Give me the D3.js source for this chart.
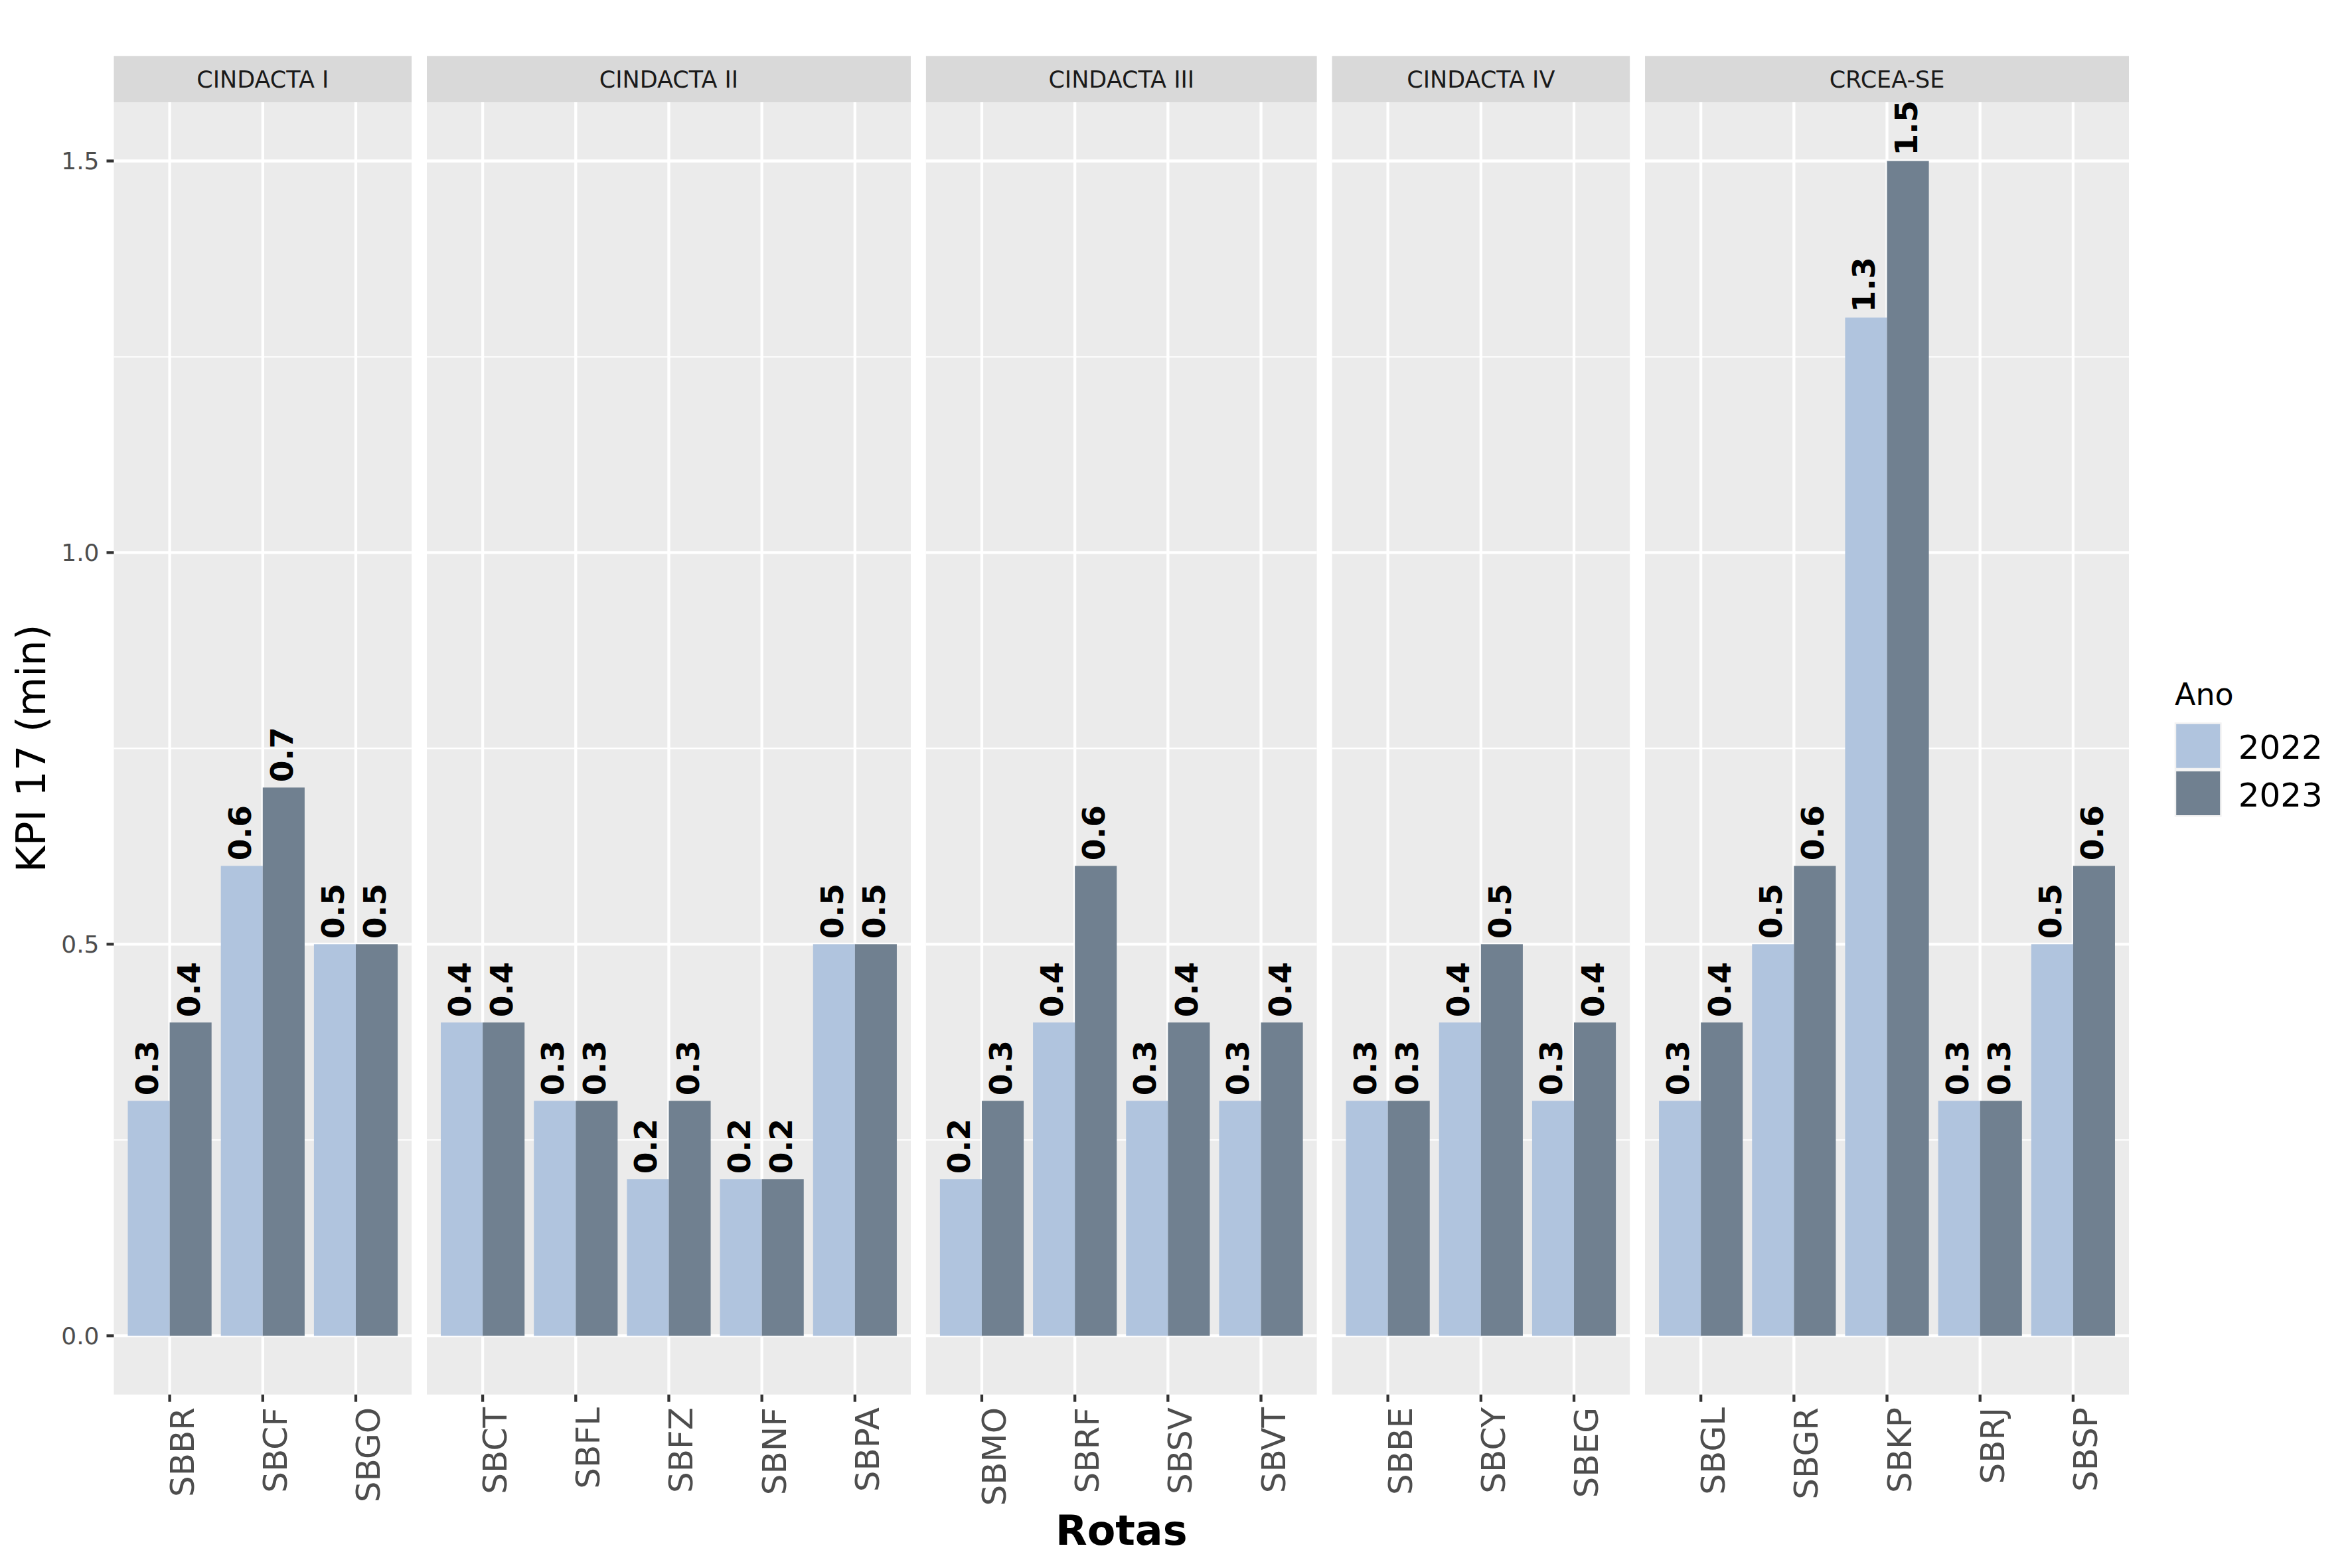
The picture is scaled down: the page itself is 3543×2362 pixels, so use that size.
<!DOCTYPE html>
<html><head><meta charset="utf-8">
<script src="https://cdn.jsdelivr.net/npm/d3@7"></script>
<style>body{margin:0;background:#fff}svg{display:block;font-family:"DejaVu Sans",sans-serif}</style>
</head><body>
<script>
const facetNames = ["CINDACTA I", "CINDACTA II", "CINDACTA III", "CINDACTA IV", "CRCEA-SE"];
const routes = ["SBBR","SBCF","SBGO","SBCT","SBFL","SBFZ","SBNF","SBPA","SBMO","SBRF","SBSV","SBVT","SBBE","SBCY","SBEG","SBGL","SBGR","SBKP","SBRJ","SBSP"];
const routeFacet = ["CINDACTA I","CINDACTA I","CINDACTA I","CINDACTA II","CINDACTA II","CINDACTA II","CINDACTA II","CINDACTA II","CINDACTA III","CINDACTA III","CINDACTA III","CINDACTA III","CINDACTA IV","CINDACTA IV","CINDACTA IV","CRCEA-SE","CRCEA-SE","CRCEA-SE","CRCEA-SE","CRCEA-SE"];
const values2022 = [0.3,0.6,0.5, 0.4,0.3,0.2,0.2,0.5, 0.2,0.4,0.3,0.3, 0.3,0.4,0.3, 0.3,0.5,1.3,0.3,0.5];
const values2023 = [0.4,0.7,0.5, 0.4,0.3,0.3,0.2,0.5, 0.3,0.6,0.4,0.4, 0.3,0.5,0.4, 0.4,0.6,1.5,0.3,0.6];
const years = ["2022","2023"];
const yearColors = ["#B0C4DE","#708090"];
const yTicks = [0, 0.5, 1.0, 1.5];
const yMinor = [0.25, 0.75, 1.25];
const xTitle = "Rotas", yTitle = "KPI 17 (min)", legendTitle = "Ano";

const W = 3543, H = 2362;
const plotL = 171.5, plotR = 3207, gap = 22.9;
const stripT = 84.3, panelT = 154, panelB = 2100.7;

const svg = d3.select("body").append("svg").attr("width", W).attr("height", H);
svg.append("rect").attr("width", W).attr("height", H).attr("fill", "#fff");

const y = d3.scaleLinear().domain([-0.075, 1.575]).range([panelB, panelT]);

const counts = facetNames.map(f => routeFacet.filter(r => r === f).length);
const totalUnits = d3.sum(counts) + 0.2 * facetNames.length;
const unit = (plotR - plotL - gap * (facetNames.length - 1)) / totalUnits;

let cursor = plotL;
facetNames.forEach((fname, fi) => {
  const idx = routes.map((r, i) => i).filter(i => routeFacet[i] === fname);
  const cats = idx.map(i => routes[i]);
  const pw = (cats.length + 0.2) * unit;
  const x0 = cursor, x1 = cursor + pw;
  cursor = x1 + gap;

  const x = d3.scaleBand().domain(cats).range([x0, x1]).paddingInner(0.1).paddingOuter(0.15);
  const xs = d3.scaleBand().domain(years).range([0, x.bandwidth()]).padding(0);

  const g = svg.append("g");
  // strip
  g.append("rect").attr("x", x0).attr("y", stripT).attr("width", pw).attr("height", panelT - stripT).attr("fill", "#D9D9D9");
  g.append("text").attr("x", (x0 + x1) / 2).attr("y", (stripT + panelT) / 2 + 13)
    .attr("text-anchor", "middle").attr("font-size", 35).attr("fill", "#1A1A1A").text(fname);
  // panel bg
  g.append("rect").attr("x", x0).attr("y", panelT).attr("width", pw).attr("height", panelB - panelT).attr("fill", "#EBEBEB");
  // minor grid
  g.selectAll(".ymin").data(yMinor).join("line")
    .attr("x1", x0).attr("x2", x1).attr("y1", d => y(d)).attr("y2", d => y(d))
    .attr("stroke", "#fff").attr("stroke-width", 2.1);
  // major grid
  g.selectAll(".ymaj").data(yTicks).join("line")
    .attr("x1", x0).attr("x2", x1).attr("y1", d => y(d)).attr("y2", d => y(d))
    .attr("stroke", "#fff").attr("stroke-width", 4.3);
  g.selectAll(".xmaj").data(cats).join("line")
    .attr("x1", d => x(d) + x.bandwidth() / 2).attr("x2", d => x(d) + x.bandwidth() / 2)
    .attr("y1", panelT).attr("y2", panelB)
    .attr("stroke", "#fff").attr("stroke-width", 4.3);

  // bars
  const rows = [];
  idx.forEach(i => {
    rows.push({r: routes[i], yr: "2022", v: values2022[i], c: yearColors[0]});
    rows.push({r: routes[i], yr: "2023", v: values2023[i], c: yearColors[1]});
  });
  g.selectAll(".bar").data(rows).join("rect")
    .attr("x", d => x(d.r) + xs(d.yr)).attr("width", xs.bandwidth())
    .attr("y", d => y(d.v)).attr("height", d => y(0) - y(d.v))
    .attr("fill", d => d.c);
  g.selectAll(".lbl").data(rows).join("text")
    .attr("transform", d => `translate(${x(d.r) + xs(d.yr) + xs.bandwidth() / 2 + 13.5},${y(d.v) - 8}) rotate(-90)`)
    .attr("text-anchor", "start").attr("font-size", 47).attr("font-weight", "bold").attr("fill", "#000")
    .text(d => d3.format(".1f")(d.v));

  // x axis ticks & labels
  const ax = svg.append("g");
  ax.selectAll("line").data(cats).join("line")
    .attr("x1", d => x(d) + x.bandwidth() / 2).attr("x2", d => x(d) + x.bandwidth() / 2)
    .attr("y1", panelB).attr("y2", panelB + 11).attr("stroke", "#333").attr("stroke-width", 4.3);
  ax.selectAll("text").data(cats).join("text")
    .attr("transform", d => `translate(${x(d) + x.bandwidth() / 2 + 36},${2120}) rotate(-90)`)
    .attr("text-anchor", "end").attr("font-size", 50).attr("fill", "#4D4D4D").text(d => d);

  if (fi === 0) {
    const ay = svg.append("g");
    ay.selectAll("line").data(yTicks).join("line")
      .attr("x1", x0 - 11).attr("x2", x0).attr("y1", d => y(d)).attr("y2", d => y(d))
      .attr("stroke", "#333").attr("stroke-width", 4.3);
    ay.selectAll("text").data(yTicks).join("text")
      .attr("x", x0 - 22).attr("y", d => y(d) + 13)
      .attr("text-anchor", "end").attr("font-size", 36).attr("fill", "#4D4D4D")
      .text(d => d3.format(".1f")(d));
  }
});

// axis titles
svg.append("text").attr("transform", `translate(68,${(panelT + panelB) / 2}) rotate(-90)`)
  .attr("text-anchor", "middle").attr("font-size", 61).attr("fill", "#000").text(yTitle);
svg.append("text").attr("x", (plotL + plotR) / 2).attr("y", 2326.7)
  .attr("text-anchor", "middle").attr("font-size", 62).attr("font-weight", "bold").attr("fill", "#000").text(xTitle);

// legend
const lg = svg.append("g");
lg.append("text").attr("x", 3276).attr("y", 1061.7).attr("font-size", 46).attr("fill", "#000").text(legendTitle);
years.forEach((yr, i) => {
  const ky = 1088.3 + i * 71.2;
  lg.append("rect").attr("x", 3275.7).attr("y", ky).attr("width", 71).attr("height", 71).attr("fill", "#F2F2F2");
  lg.append("rect").attr("x", 3278.2).attr("y", ky + 2.5).attr("width", 66).attr("height", 66).attr("fill", yearColors[i]);
  lg.append("text").attr("x", 3371.7).attr("y", ky + 55).attr("font-size", 50).attr("fill", "#000").text(yr);
});
</script>
</body></html>
